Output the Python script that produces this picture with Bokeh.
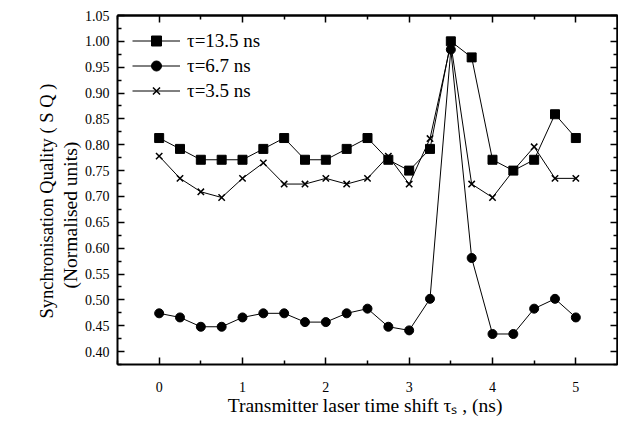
from bokeh.plotting import figure
from bokeh.models import (LinearAxis, FixedTicker, NumeralTickFormatter, Title,
                          Range1d, Legend, LegendItem, ColumnDataSource)
from bokeh.embed import file_html
from bokeh.resources import INLINE

# ---- data ----
x_shift = [0, 0.25, 0.5, 0.75, 1, 1.25, 1.5, 1.75, 2, 2.25, 2.5, 2.75, 3,
           3.25, 3.5, 3.75, 4, 4.25, 4.5, 4.75, 5]
tau_13_5 = [0.813, 0.792, 0.771, 0.771, 0.771, 0.792, 0.813, 0.771, 0.771, 0.792,
            0.813, 0.771, 0.750, 0.792, 1.000, 0.969, 0.771, 0.750, 0.771, 0.859, 0.813]
tau_6_7 = [0.474, 0.466, 0.448, 0.448, 0.466, 0.474, 0.474, 0.457, 0.457, 0.474,
           0.483, 0.448, 0.441, 0.502, 0.984, 0.581, 0.434, 0.434, 0.483, 0.502, 0.466]
tau_3_5 = [0.778, 0.735, 0.709, 0.698, 0.735, 0.765, 0.724, 0.724, 0.735, 0.724,
           0.735, 0.778, 0.724, 0.812, 0.995, 0.724, 0.698, 0.750, 0.796, 0.735, 0.735]
series_labels = ["τ=13.5 ns", "τ=6.7 ns", "τ=3.5 ns"]
x_ticks = [0, 1, 2, 3, 4, 5]
x_half = [-0.5, 0.5, 1.5, 2.5, 3.5, 4.5, 5.5]
y_ticks = [0.40, 0.45, 0.50, 0.55, 0.60, 0.65, 0.70, 0.75, 0.80, 0.85, 0.90, 0.95, 1.00, 1.05]
y_quarter = [0.375, 0.425, 0.475, 0.525, 0.575, 0.625, 0.675, 0.725, 0.775, 0.825,
             0.875, 0.925, 0.975, 1.025]
y_title_lines = ["Synchronisation Quality ( S Q )", "(Normalised units)"]
x_title = "Transmitter  laser time shift τₛ , (ns)"

FONT = "Liberation Serif"

p = figure(width=618, height=424, output_backend="svg", toolbar_location=None,
           x_range=Range1d(-0.5, 5.5), y_range=Range1d(0.375, 1.05),
           min_border_left=117, min_border_right=1, min_border_top=15, min_border_bottom=60)
p.xgrid.visible = False
p.ygrid.visible = False
p.outline_line_color = None
p.background_fill_color = "white"
p.border_fill_color = "white"

src = ColumnDataSource(dict(x=x_shift, a=tau_13_5, b=tau_6_7, c=tau_3_5))

l1 = p.line("x", "a", source=src, line_color="black", line_width=1)
s1 = p.scatter("x", "a", source=src, marker="square", size=9, color="black")
l2 = p.line("x", "b", source=src, line_color="black", line_width=1)
s2 = p.scatter("x", "b", source=src, marker="circle", size=9, color="black")
l3 = p.line("x", "c", source=src, line_color="black", line_width=1)
s3 = p.scatter("x", "c", source=src, marker="x", size=9, line_color="black", line_width=1.5)

legend = Legend(items=[LegendItem(label=series_labels[0], renderers=[l1, s1]),
                       LegendItem(label=series_labels[1], renderers=[l2, s2]),
                       LegendItem(label=series_labels[2], renderers=[l3, s3])],
                location=(15, 261), padding=0, margin=0, spacing=0,
                glyph_width=48, glyph_height=25, label_height=25, label_standoff=7,
                label_text_font=FONT, label_text_font_size="19px", label_text_color="black",
                border_line_color=None, background_fill_alpha=0)
p.add_layout(legend)


def style_axis(ax, major, minor, major_len=7, minor_len=4):
    ax.ticker = FixedTicker(ticks=major, minor_ticks=minor)
    ax.axis_line_width = 2
    ax.axis_line_color = "black"
    ax.major_tick_in = major_len
    ax.major_tick_out = 0
    ax.minor_tick_in = minor_len
    ax.minor_tick_out = 0
    ax.major_tick_line_width = 1.5
    ax.minor_tick_line_width = 1.5
    ax.major_tick_line_color = "black"
    ax.minor_tick_line_color = "black"
    ax.major_label_text_font = FONT
    ax.major_label_text_color = "black"
    ax.major_label_text_font_size = "14px"


xa = p.xaxis[0]
style_axis(xa, x_ticks, x_half)
xa.major_label_standoff = 17
xa.axis_label = x_title
xa.axis_label_text_font = FONT
xa.axis_label_text_font_size = "19.5px"
xa.axis_label_text_font_style = "normal"
xa.axis_label_text_color = "black"
xa.axis_label_standoff = 0

ya = p.yaxis[0]
style_axis(ya, y_ticks, y_quarter)
ya.major_label_standoff = 8
ya.formatter = NumeralTickFormatter(format="0.00")

# invisible spacer between the tick labels and the y title
spacer = LinearAxis(ticker=FixedTicker(ticks=[], minor_ticks=[]), axis_line_color=None,
                    major_tick_line_color=None, minor_tick_line_color=None,
                    major_tick_in=0, minor_tick_in=0, major_tick_out=0, minor_tick_out=0,
                    major_label_standoff=31)
p.add_layout(spacer, "left")

# y title as two stacked side-panel titles (inner one first)
for txt, off, stand, fs in [(y_title_lines[1], 76, 2, "19.5px"),
                            (y_title_lines[0], 46, 0, "18.5px")]:
    p.add_layout(Title(text=txt, align="left", offset=off, standoff=stand,
                       text_font=FONT, text_font_size=fs, text_font_style="normal",
                       text_color="black"), "left")

# top and right frame ticks: label-free axes built only from minor ticks
top_a = LinearAxis()
style_axis(top_a, [], x_ticks, minor_len=7)
p.add_layout(top_a, "above")
top_b = LinearAxis()
style_axis(top_b, [], x_half, minor_len=4)
p.add_layout(top_b, "above")
right_a = LinearAxis()
style_axis(right_a, [], y_ticks, minor_len=7)
p.add_layout(right_a, "right")
right_b = LinearAxis()
style_axis(right_b, [], y_quarter, minor_len=4)
p.add_layout(right_b, "right")

open("out.html", "w").write(file_html(p, INLINE))
